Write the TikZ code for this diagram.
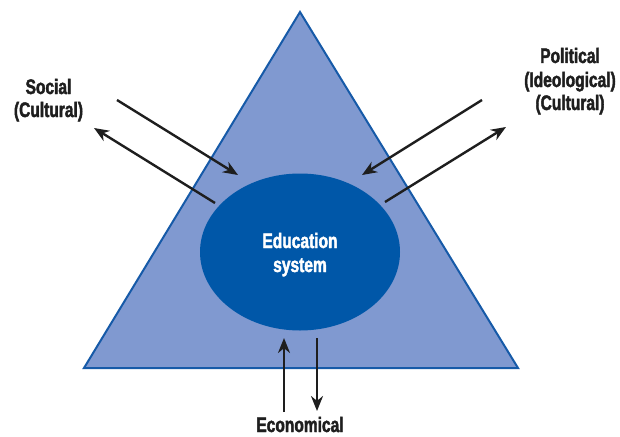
\documentclass[tikz,border=0pt]{standalone}
\usepackage{fontspec}
\newfontfamily\labfont[FakeStretch=0.74,BoldFeatures={FakeBold=2}]{Liberation Sans}
\usetikzlibrary{arrows.meta,shapes.geometric}
\definecolor{trifill}{RGB}{128,153,208}
\definecolor{triedge}{RGB}{22,90,168}
\definecolor{core}{RGB}{0,87,168}
\definecolor{ink}{RGB}{30,30,30}
\begin{document}
\begin{tikzpicture}[x=1pt,y=-1pt,
  flow/.style={draw=ink,line width=2.4pt,-{Stealth[length=15pt,width=12pt]}},
  label/.style={font=\labfont\bfseries\fontsize{21}{24}\selectfont,text=ink,inner sep=0pt,anchor=base}]
\useasboundingbox (0,0) rectangle (620,436);
% outer triangle
\draw[fill=trifill,draw=triedge,line width=2pt,line join=miter]
  (300,12) coordinate (apex) -- (518,368) coordinate (br) -- (84,368) coordinate (bl) -- cycle;
% central ellipse
\node[ellipse,fill=core,minimum width=200pt,minimum height=157pt,inner sep=0pt] (edu) at (300,252) {};
\node[label,text=white] (edu1) at (300,248) {Education};
\node[label,text=white] (edu2) at (300,272) {system};
% labels
\node[label] (social1) at (48.5,94) {Social};
\node[label] (social2) at (48.5,117) {(Cultural)};
\node[label] (pol1) at (570,63) {Political};
\node[label] (pol2) at (570,87) {(Ideological)};
\node[label] (pol3) at (570,110) {(Cultural)};
\node[label] (econ) at (300,432) {Economical};
% arrow end points
\coordinate (s1) at (117,100); \coordinate (s1e) at (238,175);
\coordinate (s2) at (215,203); \coordinate (s2e) at (94,128);
\coordinate (p1) at (482,100); \coordinate (p1e) at (362,175);
\coordinate (p2) at (385,202); \coordinate (p2e) at (506,127);
\coordinate (e1) at (284,412); \coordinate (e1e) at (284,338);
\coordinate (e2) at (317,338); \coordinate (e2e) at (317,411);
\draw[flow] (s1) -- (s1e);
\draw[flow] (s2) -- (s2e);
\draw[flow] (p1) -- (p1e);
\draw[flow] (p2) -- (p2e);
\draw[flow] (e1) -- (e1e);
\draw[flow] (e2) -- (e2e);
\end{tikzpicture}
\end{document}
